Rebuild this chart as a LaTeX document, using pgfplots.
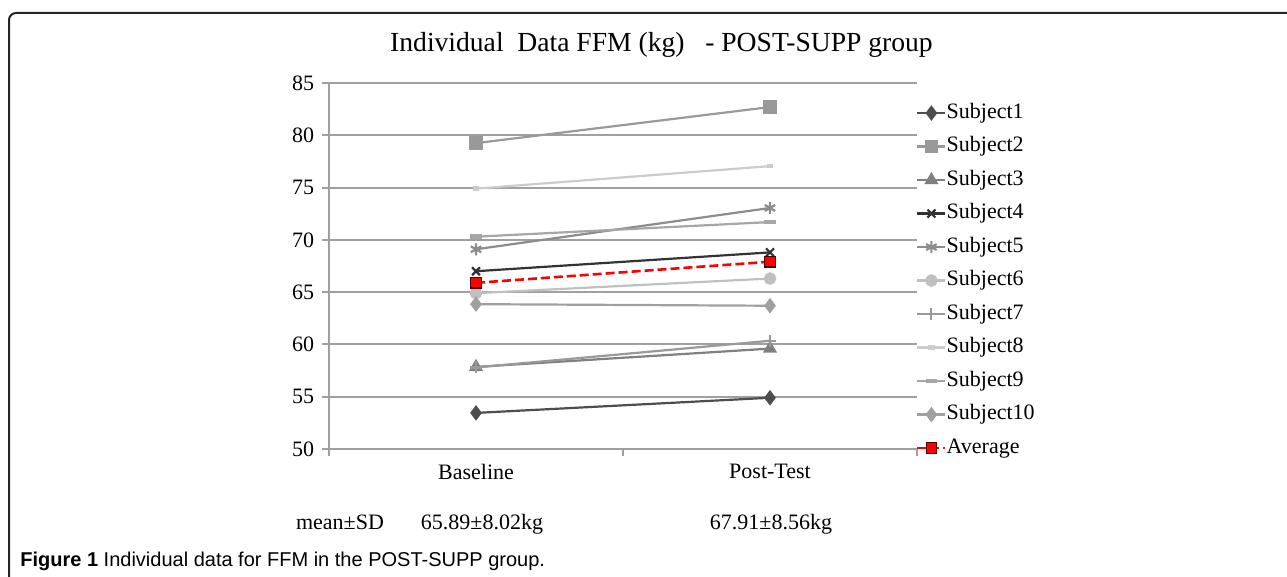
\documentclass[border=0pt]{standalone}
\usepackage{fontspec}
\setmainfont{Liberation Serif}
\newfontfamily\capfont{Liberation Sans}
\usepackage{pgfplots}
\pgfplotsset{compat=1.18}

\definecolor{axgray}{HTML}{A0A0A0}
\definecolor{cA}{HTML}{4D4D4D}
\definecolor{cB}{HTML}{999999}
\definecolor{cC}{HTML}{808080}
\definecolor{cD}{HTML}{333333}
\definecolor{cE}{HTML}{8C8C8C}
\definecolor{cF}{HTML}{C0C0C0}
\definecolor{cG}{HTML}{999999}
\definecolor{cH}{HTML}{CCCCCC}
\definecolor{cI}{HTML}{A6A6A6}
\definecolor{cJ}{HTML}{A0A0A0}

\begin{document}
\begin{tikzpicture}
% page = 1287 x 577 px, 1 px = 0.5 pt
\path[use as bounding box] (0,0) rectangle (643.5pt,288.5pt);
\draw[line width=1pt, black!85, rounded corners=3.5pt] (4.5pt,-10pt) |- (660pt,282pt);

\node[anchor=base, font=\fontsize{13.8}{16}\selectfont] at (330.75pt,262.5pt)
  {Individual\ \ Data FFM (kg)\ \ \ - POST-SUPP group};

\begin{axis}[
  at={(164.5pt,64pt)}, anchor=south west,
  scale only axis, width=294pt, height=183pt,
  xmin=0.5, xmax=2.5, ymin=50, ymax=85,
  ytick={50,55,...,85},
  xtick={1,2}, xticklabels={Baseline,Post-Test},
  minor xtick={0.5,1.5,2.5},
  axis x line*=bottom, axis y line*=left,
  axis line style={draw=axgray, line width=1pt, -},
  tick align=outside, major tick length=3.5pt, minor tick length=3.5pt,
  tick style={axgray, line width=1pt},
  major x tick style={draw=none},
  ymajorgrids, grid style={axgray, line width=1pt},
  ticklabel style={font=\fontsize{11}{13}\selectfont},
  /pgf/number format/assume math mode=true,
  clip=false,
  line width=1.1pt,
  legend style={at={(rel axis cs:1,1)}, anchor=north west, xshift=-1pt, yshift=-6.1pt,
    draw=none, fill=none, inner sep=0pt, row sep=0pt, column sep=0pt,
    font=\fontsize{11}{13}\selectfont,
    nodes={inner sep=0pt, text height=10.9pt, text depth=5.85pt}},
  legend cell align=left,
  legend image code/.code={\draw[mark repeat=2,mark phase=2,#1] plot coordinates {(0pt,0pt) (7pt,0pt) (14pt,0pt)};},
]
\addplot[cA, mark=diamond*, mark size=3pt] coordinates {(1,53.45) (2,54.9)};
\addlegendentry{Subject1}
\addplot[cB, mark=square*, mark size=2.8pt] coordinates {(1,79.25) (2,82.7)};
\addlegendentry{Subject2}
\addplot[cC, mark=triangle*, mark size=3pt] coordinates {(1,57.85) (2,59.6)};
\addlegendentry{Subject3}
\addplot[cD, mark=x, mark size=2.8pt] coordinates {(1,67.0) (2,68.8)};
\addlegendentry{Subject4}
\addplot[cE, mark=asterisk, mark size=3pt] coordinates {(1,69.1) (2,73.05)};
\addlegendentry{Subject5}
\addplot[cF, mark=*, mark size=2.6pt] coordinates {(1,64.9) (2,66.3)};
\addlegendentry{Subject6}
\addplot[cG, mark=+, mark size=3pt] coordinates {(1,57.8) (2,60.35)};
\addlegendentry{Subject7}
\addplot[cH, mark=-, mark size=1.6pt, mark options={line width=2.2pt}] coordinates {(1,74.9) (2,77.05)};
\addlegendentry{Subject8}
\addplot[cI, mark=-, mark size=2.8pt, mark options={line width=2.4pt}] coordinates {(1,70.3) (2,71.7)};
\addlegendentry{Subject9}
\addplot[cJ, mark=diamond*, mark size=3pt] coordinates {(1,63.85) (2,63.7)};
\addlegendentry{Subject10}
\addplot[red, line width=1.3pt, dash pattern=on 4.5pt off 2pt, mark=square*,
  mark size=2.6pt, mark options={solid, fill=red, draw=black!70!red, line width=0.6pt}]
  coordinates {(1,65.89) (2,67.91)};
\addlegendentry{Average}
\end{axis}

\begin{scope}[font=\fontsize{11}{13}\selectfont]
\node[anchor=base] at (170pt,23.5pt) {mean±SD};
\node[anchor=base] at (241pt,23.5pt) {65.89±8.02kg};
\node[anchor=base] at (385.5pt,23.5pt) {67.91±8.56kg};
\end{scope}

\node[anchor=base west, inner sep=0pt, font=\capfont\fontsize{10}{12}\selectfont] at (10pt,5pt)
  {\textbf{Figure 1} Individual data for FFM in the POST-SUPP group.};
\end{tikzpicture}
\end{document}
